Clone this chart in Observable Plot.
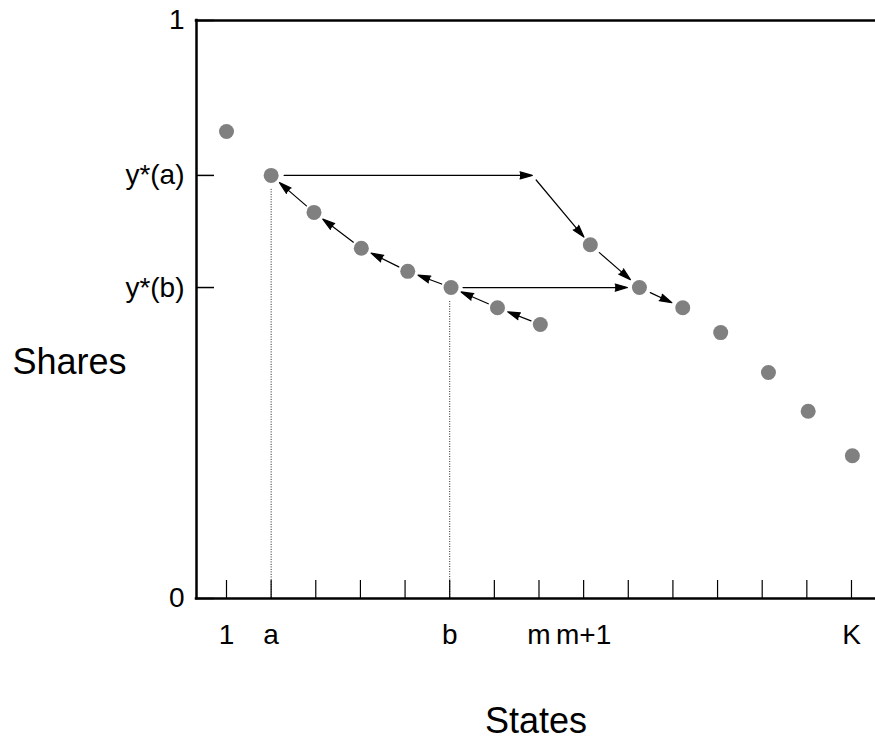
<!DOCTYPE html>
<html>
<head>
<meta charset="utf-8">
<script src="https://cdn.jsdelivr.net/npm/d3@7"></script>
<script src="https://cdn.jsdelivr.net/npm/@observablehq/plot@0.6"></script>
<style>
  html, body { margin: 0; padding: 0; background: #fff; overflow: hidden; }
</style>
</head>
<body>
<div id="chart"></div>
<script>
// ---- data ----
const stateIds = [1, 2, 3, 4, 5, 6, 7, 8, 9, 10, 11, 12, 13, 14, 15];
const stateX = [1, 2, 2.96, 4.02, 5.06, 6.03, 7.07, 8.03, 9.15, 10.25, 11.22, 12.07, 13.14, 14.03, 15.02];
const shares = [0.808, 0.732, 0.668, 0.606, 0.566, 0.538, 0.503, 0.474, 0.612, 0.538, 0.503, 0.460, 0.391, 0.324, 0.247];
const xTickStates = [1, 2, 3, 4, 5, 6, 7, 8, 9, 10, 11, 12, 13, 14, 15];
const xTickLabels = ["1", "a", "", "", "", "b", "", "m", "m+1", "", "", "", "", "", "K"];
const yTickLabels = ["0", "y*(a)", "y*(b)", "1"];
const stateA = 2, stateB = 6, stateM1 = 9;
const yTickValues = [0, shares[stateA - 1], shares[stateB - 1], 1];
// arrows as [from state, to state]
const chainArrows = [[8, 7], [7, 6], [6, 5], [5, 4], [4, 3], [3, 2]];
const crossArrows = [[6, 10], [9, 10], [10, 11]];
const jumpState = 7.85; // where the horizontal jump from a turns down
const xDomain = [0.328, 15.538];

// ---- derived tables ----
const points = stateIds.map((s, i) => ({x: stateX[i], y: shares[i]}));
const toArrow = ([f, t]) => ({x1: stateX[f - 1], y1: shares[f - 1], x2: stateX[t - 1], y2: shares[t - 1]});
const chain = chainArrows.map(toArrow);
const cross = crossArrows.map(toArrow);
const yA = shares[stateA - 1];
const jump1 = [{x1: stateX[stateA - 1], y1: yA, x2: jumpState, y2: yA}];
const jump2 = [{x1: jumpState, y1: yA, x2: stateX[stateM1 - 1], y2: shares[stateM1 - 1]}];
const drops = [stateA, stateB].map(s => ({x: s, y: shares[s - 1]}));

const arrowStyle = {x1: "x1", y1: "y1", x2: "x2", y2: "y2", stroke: "black", fill: "black", strokeWidth: 1.2, headLength: 16, headAngle: 32};

const plot = Plot.plot({
  width: 875,
  height: 755,
  marginLeft: 196,
  marginRight: 0,
  marginTop: 20,
  marginBottom: 157,
  x: {domain: xDomain, label: null},
  y: {domain: [0, 1], label: null},
  style: {fontFamily: "'Liberation Sans', Arial, sans-serif", fontSize: "28px", color: "black", background: "white", overflow: "hidden"},
  marks: [
    Plot.ruleX(drops, {x: "x", y1: "y", y2: 0, insetTop: 14, stroke: "#222", strokeWidth: 1, strokeDasharray: "1,1.5"}),
    Plot.axisX({ticks: xTickStates, tickFormat: d => xTickLabels[xTickStates.indexOf(d)], tickSize: -18, tickPadding: 44, strokeWidth: 1.2, fontSize: 28, label: null}),
    Plot.axisY({ticks: yTickValues, tickFormat: d => yTickLabels[yTickValues.indexOf(d)], tickSize: -18, tickPadding: 30, strokeWidth: 1.5, fontSize: 28, label: null}),
    Plot.ruleY([0, 1], {strokeWidth: 2.5, strokeLinecap: "square"}),
    Plot.ruleX([xDomain[0]], {y1: 0, y2: 1, strokeWidth: 2.5, strokeLinecap: "square"}),
    Plot.arrow(chain, {...arrowStyle, insetStart: 10, insetEnd: 11}),
    Plot.arrow(cross, {...arrowStyle, insetStart: 12, insetEnd: 12}),
    Plot.arrow(jump1, {...arrowStyle, insetStart: 13, insetEnd: 0}),
    Plot.arrow(jump2, {...arrowStyle, insetStart: 6, insetEnd: 10}),
    Plot.dot(points, {x: "x", y: "y", r: 7.5, fill: "#808080", stroke: null}),
    Plot.text(["Shares"], {text: d => d, frameAnchor: "left", dx: -184, dy: 53, textAnchor: "start", fontSize: 36}),
    Plot.text(["States"], {text: d => d, frameAnchor: "bottom", dy: 134, fontSize: 36})
  ]
});
document.getElementById("chart").appendChild(plot);
</script>
</body>
</html>
